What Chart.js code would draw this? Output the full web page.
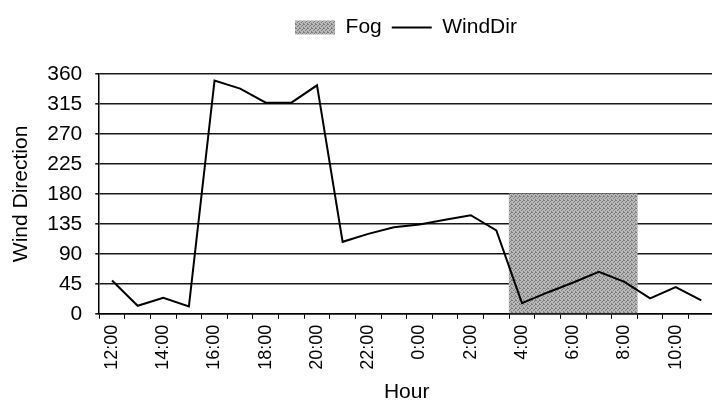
<!DOCTYPE html>
<html>
<head>
<meta charset="utf-8">
<script src="https://cdn.jsdelivr.net/npm/chart.js@4/dist/chart.umd.min.js"></script>
<style>
    body { margin: 0; overflow: hidden; background: #fff; }
    #wrap { width: 712px; height: 405px; overflow: hidden; }
</style>
</head>
<body>
<div id="wrap"><canvas id="chart" width="729" height="405"></canvas></div>
<script>
// hourly readings, noon to 11:00 next day
const hours = ["12:00", "13:00", "14:00", "15:00", "16:00", "17:00", "18:00", "19:00",
    "20:00", "21:00", "22:00", "23:00", "0:00", "1:00", "2:00", "3:00",
    "4:00", "5:00", "6:00", "7:00", "8:00", "9:00", "10:00", "11:00"];
const windDir = [50, 12, 24, 11, 350, 338, 317, 317, 343, 108, 120, 130,
    134, 141, 148, 125, 16, 32, 47, 63, 48, 23, 40, 20];
const fog = [null, null, null, null, null, null, null, null, null, null, null, null,
    null, null, null, null, 180, 180, 180, 180, 180, null, null, null];
const yTicks = [0, 45, 90, 135, 180, 225, 270, 315, 360];

function fogPattern() {
    var c = document.createElement("canvas");
    c.width = 4;
    c.height = 4;
    var g = c.getContext("2d");
    g.fillStyle = "#b8b8b8";
    g.fillRect(0, 0, 4, 4);
    g.fillStyle = "#7c7c7c";
    [[0, 0], [2, 1], [1, 2], [3, 3], [3, 0]].forEach(function (p) {
        g.fillRect(p[0], p[1], 1, 1);
    });
    return g.createPattern(c, "repeat");
}

// move the legend to where it sits in the original
const legendShift = {
    id: "legendShift",
    afterLayout: function (chart) {
        chart.legend.left += 39;
        chart.legend.right += 39;
        chart.legend.top -= 26;
        chart.legend.bottom -= 26;
    }
};

const font = "'Liberation Sans', Arial, sans-serif";

new Chart(document.getElementById("chart"), {
    data: {
        labels: hours,
        datasets: [
            {
                type: "bar",
                label: "Fog",
                data: fog,
                backgroundColor: fogPattern(),
                borderWidth: 0,
                barPercentage: 1,
                categoryPercentage: 1,
                pointStyle: "rect",
                order: 1
            },
            {
                type: "line",
                label: "WindDir",
                data: windDir,
                borderColor: "#000",
                borderWidth: 2,
                pointRadius: 0,
                pointStyle: "line",
                tension: 0,
                order: 0
            }
        ]
    },
    options: {
        responsive: false,
        animation: false,
        layout: {
            padding: { left: 9, right: 4, top: 33, bottom: 0 }
        },
        scales: {
            x: {
                offset: true,
                grid: {
                    offset: true,
                    drawOnChartArea: false,
                    drawTicks: true,
                    tickLength: 5,
                    color: "#000",
                    lineWidth: 1
                },
                border: { color: "#000", width: 1.5 },
                ticks: {
                    autoSkip: false,
                    maxRotation: 90,
                    minRotation: 90,
                    color: "#000",
                    font: { family: font, size: 18 },
                    padding: 6,
                    callback: function (val, i) {
                        return i % 2 === 0 ? hours[i] : "";
                    }
                },
                title: {
                    display: true,
                    text: "Hour",
                    color: "#000",
                    font: { family: font, size: 21 },
                    padding: { top: 4, bottom: 0 }
                }
            },
            y: {
                min: 0,
                max: 360,
                afterBuildTicks: function (axis) {
                    axis.ticks = yTicks.map(function (v) { return { value: v }; });
                },
                grid: {
                    color: "#1a1a1a",
                    lineWidth: 1.6,
                    tickLength: 4
                },
                border: { color: "#000", width: 1.5 },
                ticks: {
                    color: "#000",
                    font: { family: font, size: 21 },
                    padding: 13
                },
                title: {
                    display: true,
                    text: "Wind Direction",
                    color: "#000",
                    font: { family: font, size: 21 },
                    padding: { top: 0, bottom: 0 }
                }
            }
        },
        plugins: {
            legend: {
                position: "top",
                labels: {
                    usePointStyle: true,
                    pointStyleWidth: 40,
                    boxHeight: 14,
                    color: "#000",
                    font: { family: font, size: 21 },
                    padding: 10,
                    sort: function (a, b) { return a.datasetIndex - b.datasetIndex; }
                }
            },
            tooltip: { enabled: false }
        }
    },
    plugins: [legendShift]
});
</script>
</body>
</html>
